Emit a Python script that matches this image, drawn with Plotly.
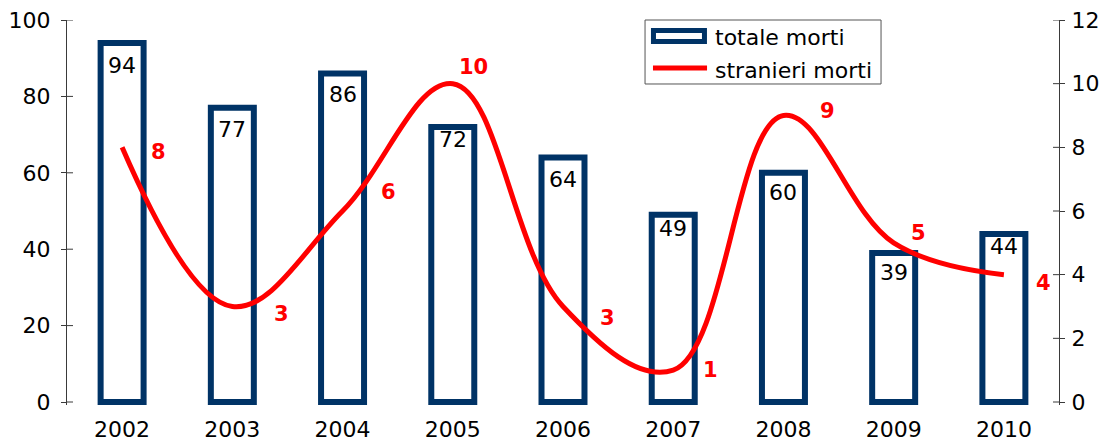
import plotly.graph_objects as go

# Data
years = ["2002", "2003", "2004", "2005", "2006", "2007", "2008", "2009", "2010"]
totale_morti = [94, 77, 86, 72, 64, 49, 60, 39, 44]
stranieri_morti = [8, 3, 6, 10, 3, 1, 9, 5, 4]
left_ticks = [0, 20, 40, 60, 80, 100]
right_ticks = [0, 2, 4, 6, 8, 10, 12]

# Label placement (pixels)
bar_label_drop = [23, 22, 21, 13, 22, 14, 20, 19, 13]
line_label_shift = [(36, -5), (49, -7), (46, 19), (21, 17), (44, -11),
                    (37, 0), (44, 5), (25, 10), (40, -8)]

NAVY = "#003366"
RED = "#ff0000"
FONT = "DejaVu Sans"
AXIS_COL = "#3a3a3a"
FS = 22

fig = go.Figure()

fig.add_trace(go.Bar(
    x=years, y=totale_morti, name="totale morti",
    width=0.39,
    marker=dict(color="white", line=dict(color=NAVY, width=6)),
    yaxis="y", showlegend=False, hoverinfo="x+y",
))

fig.add_trace(go.Scatter(
    x=years, y=stranieri_morti, name="stranieri morti",
    mode="lines", line=dict(color=RED, width=5, shape="spline", smoothing=1.1),
    yaxis="y2", showlegend=False,
))

annotations = []
# category axis positions are addressed by index
for i, (v, d) in enumerate(zip(totale_morti, bar_label_drop)):
    annotations.append(dict(x=i, y=v, xref="x", yref="y", text=str(v),
                            showarrow=False, yshift=-d,
                            font=dict(family=FONT, size=FS, color="black")))
for i, (v, (dx, dy)) in enumerate(zip(stranieri_morti, line_label_shift)):
    annotations.append(dict(x=i, y=v, xref="x", yref="y2", text=f"<b>{v}</b>",
                            showarrow=False, xshift=dx, yshift=dy,
                            font=dict(family=FONT, size=21, color=RED)))

# Legend drawn by hand
annotations.append(dict(x=0.6512, y=0.9558, xref="paper", yref="paper",
                        text="totale morti", showarrow=False, xanchor="left",
                        yanchor="middle", font=dict(family=FONT, size=FS, color="black")))
annotations.append(dict(x=0.6512, y=0.8701, xref="paper", yref="paper",
                        text="stranieri morti", showarrow=False, xanchor="left",
                        yanchor="middle", font=dict(family=FONT, size=FS, color="black")))

shapes = [
    dict(type="rect", xref="paper", yref="paper", x0=0.5827, x1=0.8206,
         y0=0.8338, y1=1.0, line=dict(color="#555555", width=1), fillcolor="white",
         layer="above"),
    dict(type="rect", xref="paper", yref="paper", x0=0.5912, x1=0.6426,
         y0=0.9442, y1=0.9727, line=dict(color=NAVY, width=5), fillcolor="white",
         layer="above"),
    dict(type="line", xref="paper", yref="paper", x0=0.5907, x1=0.6452,
         y0=0.8753, y1=0.8753, line=dict(color=RED, width=5), layer="above"),
]
# inner halves of the crossing tick marks
for t in left_ticks:
    shapes.append(dict(type="line", xref="paper", yref="y", x0=0, x1=6 / 992,
                       y0=t, y1=t, line=dict(color=AXIS_COL, width=1)))
for t in right_ticks:
    shapes.append(dict(type="line", xref="paper", yref="y2", x0=1 - 6 / 992, x1=1,
                       y0=t, y1=t, line=dict(color=AXIS_COL, width=1)))

fig.update_layout(
    width=1107, height=441,
    margin=dict(l=67, r=48, t=20, b=36),
    paper_bgcolor="white", plot_bgcolor="white",
    font=dict(family=FONT, size=FS, color="black"),
    showlegend=False,
    xaxis=dict(type="category", range=[-0.5, 8.5], showgrid=False, showline=False,
               ticks="", tickfont=dict(size=FS), ticklabelstandoff=9, zeroline=False,
               automargin=False),
    yaxis=dict(range=[-0.785, 100], tickvals=left_ticks, showgrid=False, zeroline=False,
               showline=True, linecolor=AXIS_COL, linewidth=1, ticks="outside",
               ticklen=5, tickcolor=AXIS_COL, tickfont=dict(size=FS),
               ticklabelstandoff=6, automargin=False),
    yaxis2=dict(range=[-0.0942, 12], tickvals=right_ticks, overlaying="y", side="right",
                showgrid=False, zeroline=False, showline=True, linecolor=AXIS_COL,
                linewidth=1, ticks="outside", ticklen=5, tickcolor=AXIS_COL,
                tickfont=dict(size=FS), ticklabelstandoff=2, automargin=False),
    annotations=annotations,
    shapes=shapes,
)

fig.write_html("out.html")
